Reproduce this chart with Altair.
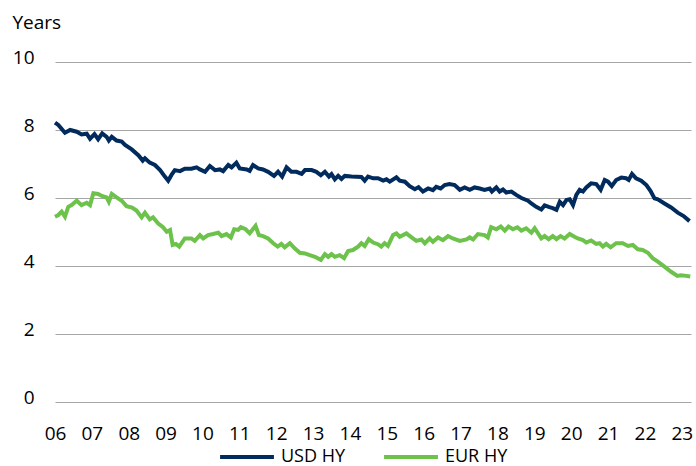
import altair as alt
import pandas as pd

usd_years = [2006.00, 2006.09, 2006.27, 2006.41, 2006.59, 2006.72, 2006.86, 2006.95, 2007.07, 2007.17,
             2007.28, 2007.40, 2007.46, 2007.54, 2007.67, 2007.81, 2007.90, 2008.08, 2008.26, 2008.38,
             2008.44, 2008.57, 2008.71, 2008.85, 2008.98, 2009.07, 2009.16, 2009.25, 2009.39, 2009.52,
             2009.70, 2009.84, 2009.93, 2010.07, 2010.20, 2010.34, 2010.47, 2010.56, 2010.70, 2010.79,
             2010.92, 2011.01, 2011.20, 2011.28, 2011.37, 2011.51, 2011.64, 2011.78, 2011.94, 2012.05,
             2012.16, 2012.28, 2012.41, 2012.55, 2012.69, 2012.78, 2012.96, 2013.09, 2013.21, 2013.32,
             2013.43, 2013.50, 2013.59, 2013.68, 2013.77, 2013.86, 2014.04, 2014.31, 2014.40, 2014.49,
             2014.63, 2014.76, 2014.90, 2014.99, 2015.08, 2015.26, 2015.35, 2015.49, 2015.62, 2015.76,
             2015.86, 2015.98, 2016.12, 2016.25, 2016.34, 2016.46, 2016.57, 2016.70, 2016.84, 2016.98,
             2017.11, 2017.25, 2017.38, 2017.52, 2017.65, 2017.79, 2017.85, 2017.97, 2018.06, 2018.15,
             2018.24, 2018.38, 2018.51, 2018.65, 2018.83, 2018.92, 2019.05, 2019.19, 2019.28, 2019.41,
             2019.50, 2019.60, 2019.69, 2019.78, 2019.87, 2019.96, 2020.05, 2020.14, 2020.23, 2020.32,
             2020.41, 2020.54, 2020.68, 2020.80, 2020.91, 2021.00, 2021.10, 2021.22, 2021.36, 2021.49,
             2021.56, 2021.65, 2021.76, 2021.90, 2022.04, 2022.15, 2022.26, 2022.35, 2022.53, 2022.71,
             2022.89, 2023.05, 2023.21]
usd_values = [8.22, 8.15, 7.92, 8.00, 7.95, 7.87, 7.89, 7.74, 7.88, 7.73,
              7.90, 7.80, 7.69, 7.80, 7.69, 7.66, 7.56, 7.43, 7.26, 7.10,
              7.17, 7.04, 6.97, 6.82, 6.63, 6.51, 6.68, 6.82, 6.79, 6.86,
              6.86, 6.90, 6.84, 6.77, 6.94, 6.82, 6.84, 6.79, 6.97, 6.90,
              7.04, 6.87, 6.84, 6.80, 6.97, 6.87, 6.84, 6.77, 6.65, 6.77,
              6.63, 6.90, 6.77, 6.77, 6.71, 6.82, 6.82, 6.77, 6.67, 6.77,
              6.63, 6.70, 6.55, 6.65, 6.56, 6.65, 6.63, 6.62, 6.51, 6.63,
              6.58, 6.58, 6.51, 6.55, 6.48, 6.61, 6.51, 6.48, 6.35, 6.26,
              6.32, 6.19, 6.28, 6.23, 6.33, 6.28, 6.38, 6.41, 6.38, 6.24,
              6.31, 6.24, 6.31, 6.28, 6.24, 6.28, 6.19, 6.31, 6.19, 6.25,
              6.16, 6.19, 6.09, 6.00, 5.92, 5.84, 5.74, 5.66, 5.78, 5.73,
              5.70, 5.65, 5.89, 5.79, 5.94, 5.96, 5.79, 6.09, 6.24, 6.19,
              6.31, 6.43, 6.41, 6.24, 6.53, 6.48, 6.35, 6.53, 6.60, 6.58,
              6.53, 6.71, 6.58, 6.51, 6.38, 6.21, 5.99, 5.96, 5.84, 5.72,
              5.57, 5.47, 5.32]

eur_years = [2006.00, 2006.09, 2006.18, 2006.27, 2006.36, 2006.45, 2006.59, 2006.72, 2006.86, 2006.95,
             2007.04, 2007.17, 2007.27, 2007.40, 2007.46, 2007.54, 2007.67, 2007.81, 2007.94, 2008.09,
             2008.21, 2008.35, 2008.44, 2008.57, 2008.66, 2008.80, 2008.93, 2009.03, 2009.12, 2009.19,
             2009.28, 2009.37, 2009.52, 2009.70, 2009.79, 2009.93, 2010.02, 2010.15, 2010.29, 2010.43,
             2010.52, 2010.65, 2010.77, 2010.86, 2010.97, 2011.04, 2011.17, 2011.28, 2011.44, 2011.53,
             2011.64, 2011.78, 2011.92, 2012.04, 2012.14, 2012.23, 2012.37, 2012.50, 2012.64, 2012.78,
             2012.91, 2013.05, 2013.21, 2013.32, 2013.41, 2013.50, 2013.59, 2013.72, 2013.84, 2013.95,
             2014.08, 2014.22, 2014.31, 2014.40, 2014.51, 2014.63, 2014.76, 2014.85, 2014.94, 2015.03,
             2015.17, 2015.26, 2015.35, 2015.53, 2015.67, 2015.80, 2015.94, 2016.03, 2016.16, 2016.25,
             2016.39, 2016.52, 2016.66, 2016.79, 2016.98, 2017.16, 2017.25, 2017.34, 2017.47, 2017.65,
             2017.74, 2017.83, 2017.97, 2018.09, 2018.20, 2018.30, 2018.42, 2018.54, 2018.65, 2018.78,
             2018.92, 2019.01, 2019.19, 2019.28, 2019.39, 2019.50, 2019.60, 2019.71, 2019.82, 2019.96,
             2020.09, 2020.18, 2020.32, 2020.41, 2020.54, 2020.68, 2020.77, 2020.86, 2020.95, 2021.07,
             2021.22, 2021.40, 2021.54, 2021.67, 2021.81, 2021.94, 2022.08, 2022.21, 2022.35, 2022.53,
             2022.71, 2022.88, 2022.98, 2023.12, 2023.23]
eur_values = [5.45, 5.50, 5.60, 5.45, 5.74, 5.79, 5.92, 5.79, 5.86, 5.79,
              6.14, 6.12, 6.06, 6.02, 5.89, 6.12, 6.02, 5.92, 5.76, 5.72,
              5.63, 5.43, 5.57, 5.37, 5.43, 5.25, 5.14, 5.01, 5.06, 4.62,
              4.65, 4.57, 4.81, 4.81, 4.74, 4.91, 4.81, 4.91, 4.94, 4.98,
              4.88, 4.94, 4.84, 5.08, 5.06, 5.14, 5.08, 4.96, 5.18, 4.91,
              4.88, 4.81, 4.67, 4.57, 4.65, 4.55, 4.67, 4.52, 4.39, 4.37,
              4.32, 4.27, 4.18, 4.35, 4.27, 4.35, 4.27, 4.32, 4.23, 4.44,
              4.47, 4.57, 4.67, 4.59, 4.79, 4.69, 4.64, 4.57, 4.67, 4.59,
              4.91, 4.96, 4.86, 4.96, 4.84, 4.74, 4.78, 4.67, 4.81, 4.71,
              4.84, 4.76, 4.88, 4.81, 4.74, 4.78, 4.84, 4.78, 4.94, 4.91,
              4.84, 5.14, 5.08, 5.16, 5.04, 5.16, 5.08, 5.14, 5.04, 5.11,
              4.98, 5.11, 4.81, 4.88, 4.79, 4.88, 4.79, 4.88, 4.81, 4.94,
              4.86, 4.81, 4.76, 4.69, 4.75, 4.65, 4.67, 4.57, 4.65, 4.55,
              4.67, 4.67, 4.59, 4.62, 4.49, 4.47, 4.39, 4.23, 4.13, 3.98,
              3.83, 3.71, 3.73, 3.71, 3.69]

series_names = ["USD HY", "EUR HY"]
series_colors = ["#002b5c", "#6cc24a"]
year_ticks = list(range(2006, 2024))
y_ticks = [0, 2, 4, 6, 8, 10]

df = pd.concat([
    pd.DataFrame({"year": usd_years, "value": usd_values, "series": series_names[0], "order": 0}),
    pd.DataFrame({"year": eur_years, "value": eur_values, "series": series_names[1], "order": 1}),
])

FONT = "Open Sans"

chart = alt.Chart(df).mark_line(strokeWidth=4, interpolate="linear").encode(
    x=alt.X("year:Q",
            scale=alt.Scale(domain=[2006, 2023.25], nice=False, zero=False),
            axis=alt.Axis(values=year_ticks, labelExpr="slice(format(datum.value, 'd'), 2)",
                          grid=False, ticks=False, domain=False, title=None,
                          labelFontSize=19, labelFont=FONT, labelColor="#000000",
                          labelPadding=37, labelBaseline="alphabetic", labelFlush=False)),
    y=alt.Y("value:Q",
            scale=alt.Scale(domain=[0, 10], nice=False),
            axis=alt.Axis(values=y_ticks, grid=True, gridColor="#a6a6a6", gridWidth=1.2,
                          ticks=False, domain=False, labelFontSize=19, labelFont=FONT,
                          labelColor="#000000", labelPadding=21, labelBaseline="alphabetic",
                          labelOffset=1,
                          title="Years", titleAngle=0, titleX=-43, titleY=-34,
                          titleAlign="left", titleBaseline="alphabetic",
                          titleFont=FONT, titleFontSize=19, titleFontWeight="normal",
                          titleColor="#000000")),
    color=alt.Color("series:N",
                    scale=alt.Scale(domain=series_names, range=series_colors),
                    legend=alt.Legend(title=None, orient="none", direction="horizontal",
                                      legendX=163, legendY=366,
                                      symbolType="stroke", symbolSize=2900,
                                      symbolStrokeWidth=4, labelFont=FONT,
                                      labelFontSize=18, labelColor="#000000",
                                      columnPadding=30, labelOffset=5, padding=0)),
    order=alt.Order("order:Q"),
).properties(
    width=636,
    height=340,
    autosize=alt.AutoSizeParams(type="none"),
    padding={"left": 55, "top": 62, "right": 5, "bottom": 64},
    background="white",
).configure_view(stroke=None)

chart.save("out.html", embed_options={"renderer": "svg", "actions": False})
